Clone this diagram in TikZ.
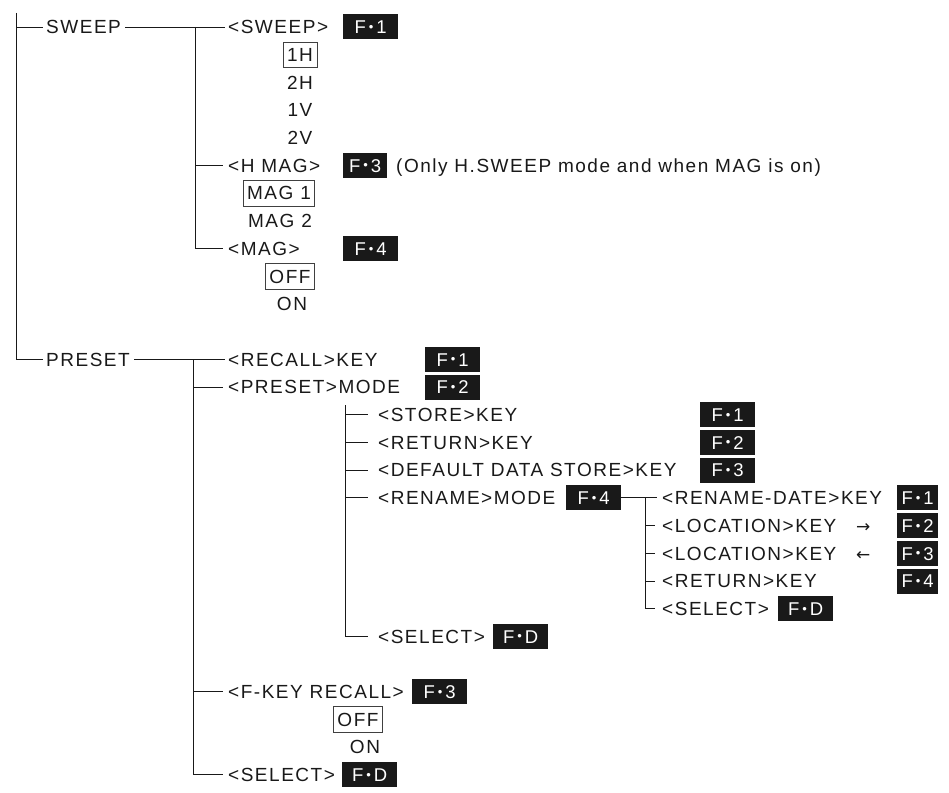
\documentclass[tikz,border=0pt]{standalone}
\usepackage{fontspec}
\setmainfont{Liberation Sans}[LetterSpace=8]
\newfontfamily\arrowfont{DejaVu Sans}
\newcommand\fk[1]{F\hspace{3pt}\raisebox{2.3pt}{\fontsize{13}{13}\selectfont\textbullet}\hspace{3pt}#1}
\begin{document}
\begin{tikzpicture}[x=1pt,y=-1pt,
  ln/.style={line width=0.9pt,draw=black!90},
  txt/.style={anchor=west,inner sep=0pt,text height=13.5pt,text depth=0pt,font=\fontsize{19}{21}\selectfont,text=black!90},
  ctr/.style={inner sep=0pt,text height=13.5pt,text depth=0pt,font=\fontsize{19}{21}\selectfont,text=black!90},
  val/.style={ctr,draw=black!75,line width=0.7pt,inner xsep=4pt,inner ysep=6pt},
  fkey/.style={anchor=west,fill=black!90,text=white,inner sep=0pt,minimum width=55pt,minimum height=25pt,text height=13.5pt,text depth=0pt,font=\fontsize{18.5}{20}\selectfont},
  fks/.style={fkey,minimum width=41pt},
  arr/.style={anchor=west,inner sep=0pt,text height=13.5pt,text depth=0pt,font=\arrowfont\fontsize{17}{17}\selectfont,text=black!90}
]
\useasboundingbox (0,0) rectangle (949,792);

% ---------- root ----------
\coordinate (top) at (16,13);
\node[txt] (sweep) at (46,27) {SWEEP};
\node[txt] (preset) at (46,359.4) {PRESET};
\draw[ln] (top) |- ([xshift=-3pt]preset.west);
\draw[ln] (top |- sweep.west) -- ([xshift=-3pt]sweep.west);

% ---------- SWEEP branch ----------
\node[txt] (sw) at (228,27) {<SWEEP>};
\node[fkey] (swf) at (343,27) {\fk{1}};
\node[val] (v1h) at (300,54.7) {1H};
\node[ctr] (v2h) at (300,82.4) {2H};
\node[ctr] (v1v) at (300,110.1) {1V};
\node[ctr] (v2v) at (300,137.8) {2V};
\node[txt] (hmag) at (228,165.5) {<H MAG>};
\node[fkey,minimum width=44pt] (hmagf) at (343,165.5) {\fk{3}};
\node[txt] (note) at (396,165.5) {(Only H.SWEEP mode and when MAG is on)};
\node[val] (m1) at (279,193.2) {MAG 1};
\node[ctr] (m2) at (280,220.9) {MAG 2};
\node[txt] (mag) at (228,248.6) {<MAG>};
\node[fkey] (magf) at (343,248.6) {\fk{4}};
\node[val] (moff) at (290,276.3) {OFF};
\node[ctr] (mon) at (292,304) {ON};

\coordinate (sv) at (195,27);
\draw[ln] ([xshift=4pt]sweep.east) -- ([xshift=-3pt]sw.west);
\draw[ln] (sv) |- ([xshift=-5pt]mag.west);
\draw[ln] (sv |- hmag.west) -- ([xshift=-5pt]hmag.west);

% ---------- PRESET branch ----------
\node[txt] (rec) at (228,359.4) {<RECALL>KEY};
\node[fkey] (recf) at (425,359.4) {\fk{1}};
\node[txt] (pm) at (228,387.1) {<PRESET>MODE};
\node[fkey] (pmf) at (425,387.1) {\fk{2}};
\node[txt] (fkr) at (228,691.8) {<F-KEY RECALL>};
\node[fkey] (fkrf) at (412,691.8) {\fk{3}};
\node[val] (foff) at (358,719.5) {OFF};
\node[ctr] (fon) at (365,747.2) {ON};
\node[txt] (sel) at (228,774.9) {<SELECT>};
\node[fkey] (self) at (342,774.9) {\fk{D}};

\coordinate (pv) at (193,359.4);
\draw[ln] ([xshift=4pt]preset.east) -- ([xshift=-3pt]rec.west);
\draw[ln] (pv) |- ([xshift=-5pt]sel.west);
\draw[ln] (pv |- pm.west) -- ([xshift=-5pt]pm.west);
\draw[ln] (pv |- fkr.west) -- ([xshift=-5pt]fkr.west);

% ---------- PRESET MODE subtree ----------
\node[txt] (st) at (378,414.8) {<STORE>KEY};
\node[fkey] (stf) at (700,414.8) {\fk{1}};
\node[txt] (rt) at (378,442.5) {<RETURN>KEY};
\node[fkey] (rtf) at (700,442.5) {\fk{2}};
\node[txt] (dd) at (378,470.2) {<DEFAULT DATA STORE>KEY};
\node[fkey] (ddf) at (700,470.2) {\fk{3}};
\node[txt] (rn) at (378,497.9) {<RENAME>MODE};
\node[fkey] (rnf) at (566,497.9) {\fk{4}};
\node[txt] (ps) at (378,636.4) {<SELECT>};
\node[fkey] (psf) at (493,636.4) {\fk{D}};

\coordinate (qv) at (345,405);
\draw[ln] (qv) |- ([xshift=-10pt]ps.west);
\foreach \n in {st,rt,dd,rn}
  \draw[ln] (qv |- \n.west) -- ([xshift=-10pt]\n.west);

% ---------- RENAME MODE subtree ----------
\node[txt] (rd) at (662,497.9) {<RENAME-DATE>KEY};
\node[fks] (rdf) at (897,497.9) {\fk{1}};
\node[txt] (l1) at (662,525.6) {<LOCATION>KEY};
\node[arr] (a1) at (856,525.6) {→};
\node[fks] (l1f) at (897,525.6) {\fk{2}};
\node[txt] (l2) at (662,553.3) {<LOCATION>KEY};
\node[arr] (a2) at (856,553.3) {←};
\node[fks] (l2f) at (897,553.3) {\fk{3}};
\node[txt] (r2) at (662,581) {<RETURN>KEY};
\node[fks] (r2f) at (897,581) {\fk{4}};
\node[txt] (s2) at (662,608.7) {<SELECT>};
\node[fkey] (s2f) at (778,608.7) {\fk{D}};

\coordinate (rv) at (645,497.9);
\draw[ln] (rnf.east) -- ([xshift=-5pt]rd.west);
\draw[ln] (rv) |- ([xshift=-7pt]s2.west);
\foreach \n in {l1,l2,r2}
  \draw[ln] (rv |- \n.west) -- ([xshift=-7pt]\n.west);
\end{tikzpicture}
\end{document}
